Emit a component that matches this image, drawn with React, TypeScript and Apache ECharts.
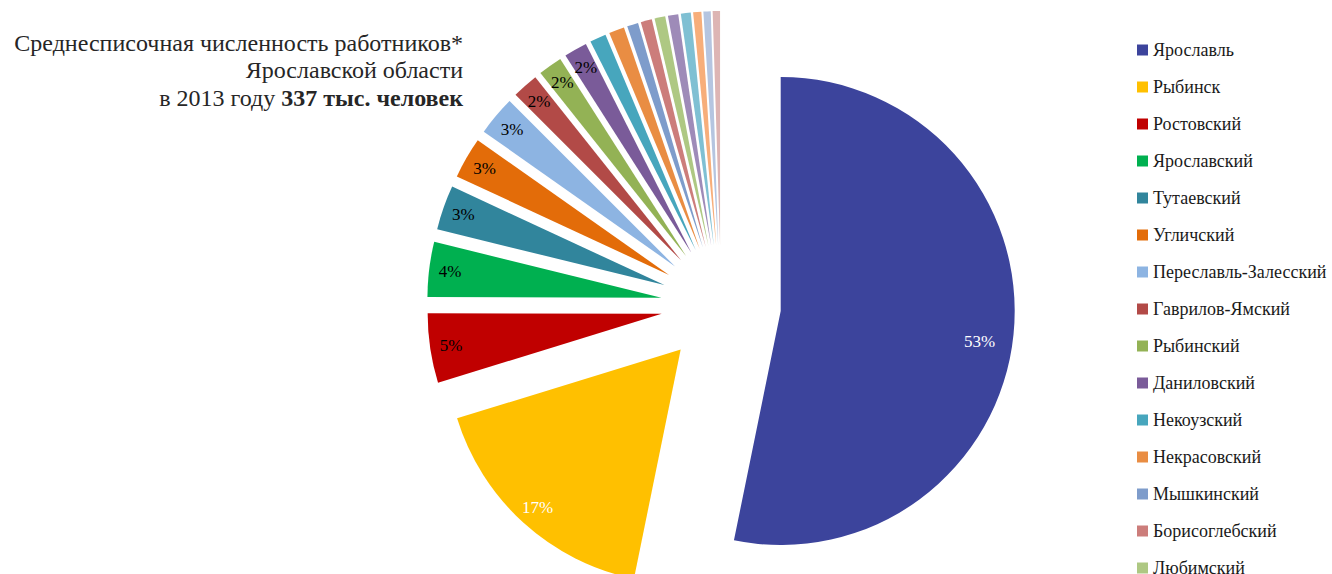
import React, { useEffect, useRef } from "react";
import * as echarts from "echarts";

const titleLines = [
  "Среднесписочная численность работников*",
  "Ярославской области",
];
const titleYearPart = "в 2013 году ";
const titleBoldPart = "337 тыс. человек";

const categories = [
  "Ярославль",
  "Рыбинск",
  "Ростовский",
  "Ярославский",
  "Тутаевский",
  "Угличский",
  "Переславль-Залесский",
  "Гаврилов-Ямский",
  "Рыбинский",
  "Даниловский",
  "Некоузский",
  "Некрасовский",
  "Мышкинский",
  "Борисоглебский",
  "Любимский",
  "Пошехонский",
  "Первомайский",
  "Переславский",
  "Большесельский",
  "Брейтовский",
];

// thousand people
const values = [
  179.5, 57.5, 16.2, 12.8, 10.4, 9.6, 9.2, 6.1, 5.6, 5.4, 3.8, 3.6, 2.6, 2.6,
  2.5, 2.4, 2.3, 1.9, 1.7, 1.7,
];

const colors = [
  "#3C449C",
  "#FFC000",
  "#C00000",
  "#00B050",
  "#31859C",
  "#E36C09",
  "#8DB4E2",
  "#B24A47",
  "#93B255",
  "#7A5B99",
  "#47A6BD",
  "#E98D43",
  "#7E9CCB",
  "#CC7D7B",
  "#AEC883",
  "#9E8BB8",
  "#7FC0D3",
  "#F7AE7A",
  "#B5C5E0",
  "#DDB5B4",
];

const whiteLabels = ["Ярославль", "Рыбинск"];

const FONT = "Liberation Serif";

export default function App() {
  const ref = useRef<HTMLDivElement>(null);

  useEffect(() => {
    if (!ref.current) return;
    const chart = echarts.init(ref.current, undefined, { renderer: "svg" });

    const mainData = categories.map((name, i) => ({
      name,
      value: values[i],
      selected: true,
      itemStyle: { color: colors[i] },
    }));
    const labelData = categories.map((name, i) => ({
      name,
      value: values[i],
      selected: true,
      label: {
        color: whiteLabels.includes(name) ? "#ffffff" : "#000000",
      },
    }));

    const center = [721, 305];
    const offset = 60;

    chart.setOption({
      animation: false,
      textStyle: { fontFamily: FONT },
      legend: {
        orient: "vertical",
        left: 1137,
        top: 40,
        padding: 0,
        itemWidth: 11,
        itemHeight: 11,
        itemGap: 17,
        icon: "rect",
        selectedMode: false,
        data: categories,
        textStyle: {
          fontFamily: FONT,
          fontSize: 18,
          lineHeight: 20,
          color: "#1a1a1a",
        },
      },
      graphic: [
        {
          type: "text",
          right: 1332 - 463,
          top: 31,
          style: {
            text: titleLines[0],
            fontFamily: FONT,
            fontSize: 24,
            fill: "#262626",
          },
        },
        {
          type: "text",
          right: 1332 - 463,
          top: 58,
          style: {
            text: titleLines[1],
            fontFamily: FONT,
            fontSize: 24,
            fill: "#262626",
          },
        },
        {
          type: "text",
          right: 1332 - 463,
          top: 86,
          style: {
            text: `{n|${titleYearPart}}{b|${titleBoldPart}}`,
            fontFamily: FONT,
            fontSize: 24,
            fill: "#262626",
            rich: {
              n: { fontFamily: FONT, fontSize: 24, fill: "#262626" },
              b: {
                fontFamily: FONT,
                fontSize: 24,
                fontWeight: "bold",
                fill: "#262626",
              },
            },
          },
        },
      ],
      series: [
        {
          type: "pie",
          center,
          radius: [0, 234],
          startAngle: 90,
          clockwise: true,
          selectedMode: "multiple",
          selectedOffset: offset,
          avoidLabelOverlap: false,
          label: { show: false },
          labelLine: { show: false },
          emphasis: { disabled: true },
          itemStyle: { borderWidth: 0 },
          data: mainData,
        },
        {
          type: "pie",
          center,
          radius: [0, 420],
          startAngle: 90,
          clockwise: true,
          silent: true,
          selectedMode: "multiple",
          selectedOffset: offset,
          avoidLabelOverlap: false,
          minShowLabelAngle: 0,
          labelLayout: (p: any) =>
            p.dataIndex === 0
              ? { dx: -13, dy: 9, hideOverlap: false }
              : { hideOverlap: false },
          itemStyle: { color: "rgba(0,0,0,0)", borderWidth: 0 },
          emphasis: { disabled: true },
          labelLine: { show: false },
          label: {
            show: true,
            position: "inside",
            fontFamily: FONT,
            fontSize: 17,
            formatter: (p: any) =>
              p.percent >= 1.5 ? `${Math.round(p.percent)}%` : "",
          },
          data: labelData,
        },
      ],
    });

    return () => chart.dispose();
  }, []);

  return (
    <div
      style={{
        position: "fixed",
        left: 0,
        top: 0,
        width: 1332,
        height: 574,
        overflow: "hidden",
        background: "#ffffff",
      }}
    >
      <div ref={ref} style={{ width: 1332, height: 800 }} />
    </div>
  );
}
